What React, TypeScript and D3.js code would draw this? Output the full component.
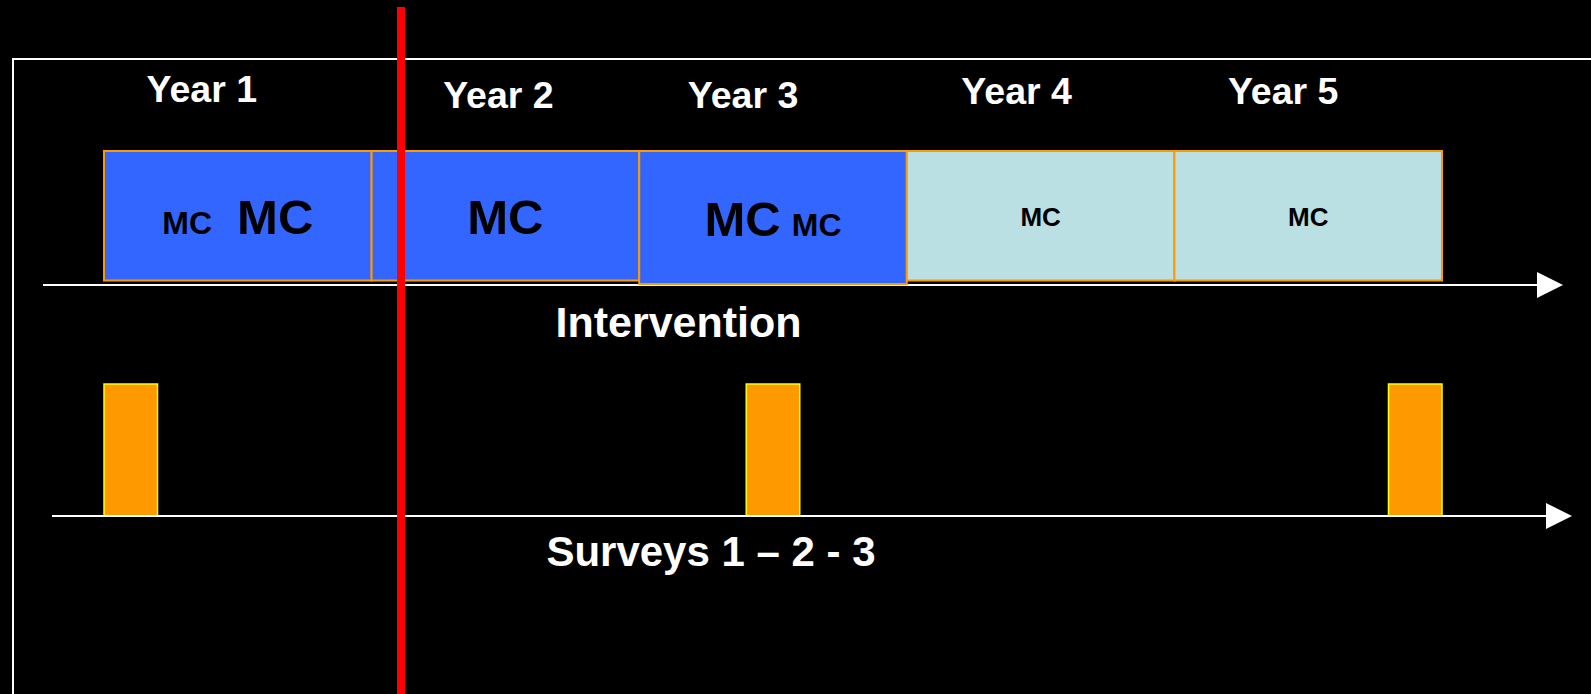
import React from 'react';
import * as d3 from 'd3';

// timeline data
const years = ['Year 1', 'Year 2', 'Year 3', 'Year 4', 'Year 5'];
const phases = ['full', 'full', 'full', 'followup', 'followup'];
const mcRounds = [['minor', 'major'], ['major'], ['major', 'minor'], ['followup'], ['followup']];
const surveyStarts = [0, 2.4, 4.8];
const surveyLength = 0.2;
const markerYear = 1.11;
const interventionLabel = 'Intervention';
const surveysLabel = 'Surveys 1 \u2013 2 - 3';

// layout / styles
const W = 1591;
const H = 694;
const FONT = '"Liberation Sans", Arial, Helvetica, sans-serif';
const phaseFill: Record<string, string> = { full: '#3366FF', followup: '#BBE0E3' };
const mcSize: Record<string, number> = { minor: 32, major: 49, followup: 26 };
const yearShift = [-36, -7, -30, -24, -25];
const yearBaseline = [102, 108, 108, 104, 104];
const boxTop = 151;
const boxBottom = [280.5, 280.5, 284, 280.5, 280.5];
const axis1Y = 285;
const axis2Y = 516;
const surveyTop = 384;

function arrow(x0: number, tip: number, y: number) {
  return {
    line: `M${x0},${y}H${tip - 24}`,
    head: `M${tip - 26},${y - 13}L${tip},${y}L${tip - 26},${y + 13}Z`
  };
}

export default function App() {
  const x = d3.scaleLinear().domain([0, years.length]).range([104, 1442]);
  const a1 = arrow(43, 1563, axis1Y);
  const a2 = arrow(52, 1572, axis2Y);

  return (
    <div style={{ position: 'absolute', left: 0, top: 0 }}>
      <svg width={W} height={H} style={{ display: 'block' }} fontFamily={FONT} fontWeight="bold">
        <rect width={W} height={H} fill="#000" />
        <rect x={13} y={59} width={W + 20} height={H + 20} fill="none" stroke="#fff" strokeWidth={2} />

        {years.map((y, i) => (
          <text
            key={y}
            x={(x(i) + x(i + 1)) / 2 + yearShift[i]}
            y={yearBaseline[i]}
            textAnchor="middle"
            fill="#fff"
            fontSize={37.5}
          >
            {y}
          </text>
        ))}

        {/* intervention axis sits under the year boxes */}
        <path d={a1.line} stroke="#fff" strokeWidth={2.2} fill="none" />
        <path d={a1.head} fill="#fff" />

        {phases.map((p, i) => (
          <rect
            key={i}
            x={x(i)}
            y={boxTop}
            width={x(i + 1) - x(i)}
            height={boxBottom[i] - boxTop}
            fill={phaseFill[p]}
            stroke="#FF9900"
            strokeWidth={2}
          />
        ))}

        {mcRounds.map((rounds, i) => {
          const maxSize = d3.max(rounds, r => mcSize[r]) as number;
          const mid = (boxTop + boxBottom[i]) / 2;
          return (
            <text
              key={i}
              x={(x(i) + x(i + 1)) / 2}
              y={mid + maxSize * 0.358 + 1}
              textAnchor="middle"
              fill="#000"
            >
              {rounds.map((r, j) => (
                <tspan key={j} dx={j === 0 ? 0 : r === 'major' ? 25 : 11} fontSize={mcSize[r]}>
                  MC
                </tspan>
              ))}
            </text>
          );
        })}

        <text x={678.5} y={337} textAnchor="middle" fill="#fff" fontSize={43}>
          {interventionLabel}
        </text>

        {surveyStarts.map((s, i) => (
          <rect
            key={i}
            x={x(s)}
            y={surveyTop}
            width={x(s + surveyLength) - x(s)}
            height={axis2Y - surveyTop}
            fill="#FF9900"
            stroke="#FFFF00"
            strokeWidth={1.5}
          />
        ))}
        <path d={a2.line} stroke="#fff" strokeWidth={2.2} fill="none" />
        <path d={a2.head} fill="#fff" />
        <text x={711} y={566} textAnchor="middle" fill="#fff" fontSize={42}>
          {surveysLabel}
        </text>

        <line x1={x(markerYear)} x2={x(markerYear)} y1={7} y2={H + 5} stroke="#FF0000" strokeWidth={8} />
      </svg>
    </div>
  );
}
